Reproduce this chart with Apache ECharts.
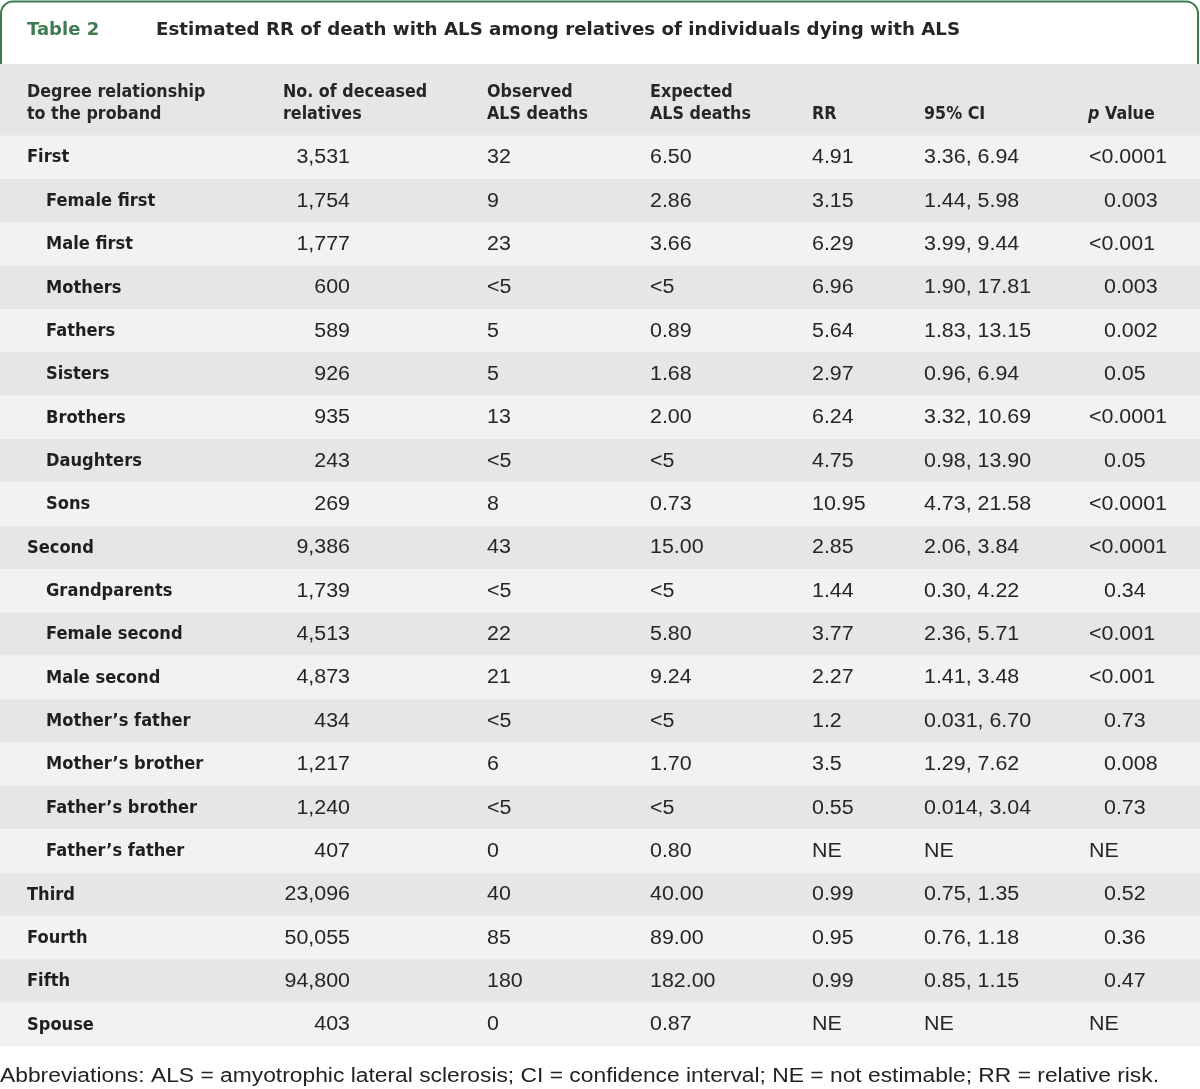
<!DOCTYPE html>
<html>
<head>
<meta charset="utf-8">
<script src="https://cdn.jsdelivr.net/npm/echarts@6/dist/echarts.min.js"></script>
<style>
html, body { margin: 0; padding: 0; background: #fff; }
#chart { width: 1200px; height: 1089px; }
</style>
</head>
<body>
<div id="chart"></div>
<script>
// 表格数据
const relationship = ['First', 'Female first', 'Male first', 'Mothers', 'Fathers', 'Sisters', 'Brothers', 'Daughters', 'Sons',
    'Second', 'Grandparents', 'Female second', 'Male second', 'Mother\u2019s father', 'Mother\u2019s brother', 'Father\u2019s brother', 'Father\u2019s father',
    'Third', 'Fourth', 'Fifth', 'Spouse']
const level = [0, 1, 1, 1, 1, 1, 1, 1, 1, 0, 1, 1, 1, 1, 1, 1, 1, 0, 0, 0, 0]
const deceased = ['3,531', '1,754', '1,777', '600', '589', '926', '935', '243', '269',
    '9,386', '1,739', '4,513', '4,873', '434', '1,217', '1,240', '407', '23,096', '50,055', '94,800', '403']
const observed = ['32', '9', '23', '<5', '5', '5', '13', '<5', '8',
    '43', '<5', '22', '21', '<5', '6', '<5', '0', '40', '85', '180', '0']
const expected = ['6.50', '2.86', '3.66', '<5', '0.89', '1.68', '2.00', '<5', '0.73',
    '15.00', '<5', '5.80', '9.24', '<5', '1.70', '<5', '0.80', '40.00', '89.00', '182.00', '0.87']
const rr = ['4.91', '3.15', '6.29', '6.96', '5.64', '2.97', '6.24', '4.75', '10.95',
    '2.85', '1.44', '3.77', '2.27', '1.2', '3.5', '0.55', 'NE', '0.99', '0.95', '0.99', 'NE']
const ci = ['3.36, 6.94', '1.44, 5.98', '3.99, 9.44', '1.90, 17.81', '1.83, 13.15', '0.96, 6.94', '3.32, 10.69', '0.98, 13.90', '4.73, 21.58',
    '2.06, 3.84', '0.30, 4.22', '2.36, 5.71', '1.41, 3.48', '0.031, 6.70', '1.29, 7.62', '0.014, 3.04', 'NE', '0.75, 1.35', '0.76, 1.18', '0.85, 1.15', 'NE']
const pValue = ['<0.0001', '0.003', '<0.001', '0.003', '0.002', '0.05', '<0.0001', '0.05', '<0.0001',
    '<0.0001', '0.34', '<0.001', '<0.001', '0.73', '0.008', '0.73', 'NE', '0.52', '0.36', '0.47', 'NE']

const tableNo = 'Table 2'
const tableTitle = 'Estimated RR of death with ALS among relatives of individuals dying with ALS'
const footnote = 'Abbreviations: ALS = amyotrophic lateral sclerosis; CI = confidence interval; NE = not estimable; RR = relative risk.'

const labelFont = '"DejaVu Sans", sans-serif'
const numFont = '"Liberation Sans", Arial, sans-serif'
const green = '#3f7a52'
const ink = '#262626'

const chart = echarts.init(document.getElementById('chart'), null, {renderer: 'canvas'})

// 文本（横向拉伸，锚点为原点）
function label (x, y, text, font, sx, fill, align) {
    return {
        type: 'text', x: x, y: y, z: 10, scaleX: sx, originX: 0, originY: 0,
        style: {text: text, x: 0, y: 0, align: align || 'left', verticalAlign: 'middle',
            fill: fill || ink, font: font, lineHeight: 22}
    }
}
const headFont = 'bold 18px ' + labelFont
const headSx = 0.885

const option = {
    animation: false,
    backgroundColor: '#fff',
    grid: {left: 0, right: 0, top: 135.5, bottom: 43},
    xAxis: {type: 'value', min: 0, max: 1200, show: false},
    yAxis: {type: 'category', data: relationship, inverse: true, show: false},
    graphic: [
        // 标题框
        {type: 'rect', z: 1, shape: {x: 1, y: 1.5, width: 1197, height: 80, r: 12},
            style: {fill: '#fff', stroke: green, lineWidth: 2}},
        {type: 'rect', z: 2, shape: {x: 0, y: 64, width: 1200, height: 72}, style: {fill: '#e6e6e6'}},
        label(27, 30, tableNo, 'bold 18px ' + labelFont, 1, green),
        label(156, 30, tableTitle, 'bold 18px ' + labelFont, 1.012),
        // 表头
        label(27, 103, 'Degree relationship\nto the proband', headFont, headSx),
        label(283, 103, 'No. of deceased\nrelatives', headFont, headSx),
        label(487, 103, 'Observed\nALS deaths', headFont, headSx),
        label(650, 103, 'Expected\nALS deaths', headFont, headSx),
        label(812, 114, 'RR', headFont, headSx),
        label(924, 114, '95% CI', headFont, headSx),
        {type: 'text', x: 1088, y: 114, z: 10, scaleX: headSx, originX: 0, originY: 0, style: {
            text: '{i|p} Value', x: 0, y: 0, verticalAlign: 'middle', fill: ink, font: headFont,
            rich: {i: {fontStyle: 'italic', fontWeight: 'bold', fontSize: 18, fontFamily: labelFont, fill: ink}}
        }},
        // 注释
        label(0, 1077, footnote, '19.5px ' + numFont, 1.17, '#222')
    ],
    series: [{
        type: 'custom',
        data: relationship.map((name, i) => [600, i]),
        encode: {x: 0, y: 1},
        renderItem: function (params, api) {
            const row = api.value(1)
            const c = api.coord([0, row])
            const h = api.size([0, 1])[1]
            const cs = params.coordSys
            const y = c[1] + 0.5
            const xs = v => api.coord([v, row])[0]
            const num = (text, x, align) => {
                const el = label(x, y, text, '20px ' + numFont, 1.07, ink, align)
                delete el.z
                return el
            }
            const name = label(xs(level[row] ? 46 : 27), y, relationship[row], 'bold 18.5px ' + labelFont, 0.88, '#1f1f1f')
            delete name.z
            const p = pValue[row]
            return {
                type: 'group',
                children: [
                    {type: 'rect', shape: {x: cs.x, y: c[1] - h / 2, width: cs.width, height: h},
                        style: {fill: row % 2 ? '#e6e6e6' : '#f2f2f2'}},
                    name,
                    num(deceased[row], xs(350), 'right'),
                    num(observed[row], xs(487)),
                    num(expected[row], xs(650)),
                    num(rr[row], xs(812)),
                    num(ci[row], xs(924)),
                    num(p, xs(/^\d/.test(p) ? 1104 : 1089))
                ]
            }
        }
    }]
}
chart.setOption(option)
</script>
</body>
</html>
